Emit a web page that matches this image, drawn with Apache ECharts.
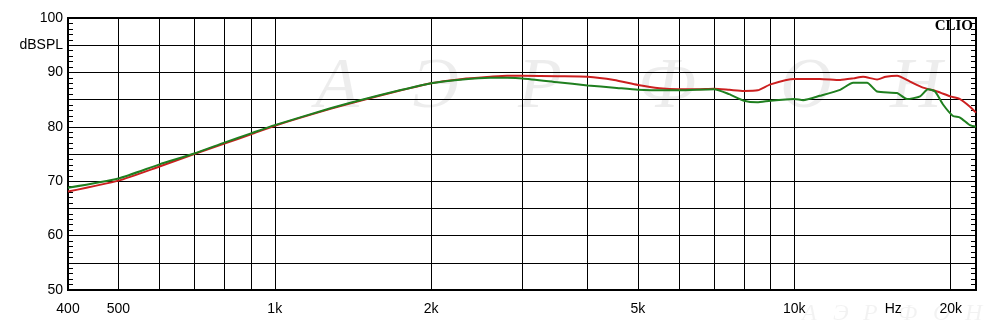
<!DOCTYPE html>
<html><head><meta charset="utf-8">
<script src="https://cdn.jsdelivr.net/npm/echarts@6/dist/echarts.min.js"></script>
<style>html,body{margin:0;padding:0;background:#fff}#c{width:1000px;height:330px}</style>
</head><body><div id="c"></div>
<script>
// Frequencies (Hz) and levels (dB SPL)
const redFreq = [400,500,600,700,800,900,1000,1280,1530,2000,2300,2600,2800,3000,3500,4000,4500,5000,5500,6000,6500,7000,7500,8000,8500,9000,10000,11200,12250,13000,13560,14430,15000,15770,16700,17690,18830,19940,20840,21780,22370];
const redDb   = [68.1,70.1,72.7,75.0,76.9,78.6,80.2,83.3,85.3,88.0,88.8,89.2,89.4,89.4,89.3,89.2,88.6,87.7,87.1,86.9,86.9,87.0,86.8,86.6,86.7,87.8,88.8,88.8,88.6,88.9,89.2,88.7,89.2,89.4,88.3,87.2,86.5,85.6,85.1,83.7,82.6];
const greenFreq = [400,500,600,700,800,900,1000,1280,1530,2000,2300,2600,2800,3000,3500,4000,4500,5000,5770,6000,7000,7490,8000,8480,9000,10000,10400,11200,12250,12980,13800,14430,15770,16480,17460,18080,18660,19330,20200,20840,21780,22370];
const greenDb   = [68.8,70.5,73.1,75.1,77.1,78.8,80.3,83.4,85.4,88.0,88.7,89.0,89.0,88.9,88.2,87.6,87.2,86.8,86.7,86.7,86.9,86.0,84.8,84.5,84.8,85.1,84.9,85.7,86.8,88.1,88.1,86.5,86.2,85.1,85.6,86.9,86.5,84.1,82.0,81.7,80.3,80.0];
const gridFreqs = [500,600,700,800,900,1000,2000,3000,4000,5000,6000,7000,8000,9000,10000,20000];
const labelFreqs = [400,500,1000,2000,5000,10000,15500,20000];
const labelTexts = ['400','500','1k','2k','5k','10k','Hz','20k'];
const yLabels = {50:'50',60:'60',70:'70',80:'80',90:'90',95:'dBSPL',100:'100'};
const watermark = ['А','Э','Р','Ф','О','Н'];

const L = Math.log10;
const xMin = L(400), xMax = L(22370);
const toPts = (f, d) => f.map((v, i) => [L(v), d[i]]);

const chart = echarts.init(document.getElementById('c'), null, {renderer: 'canvas'});
const font = 'Liberation Sans, Arial, sans-serif';

const bigX = [345, 442, 548, 668, 810, 920];
const smallX = [811, 842, 872, 907, 942, 974];
const graphics = [];
watermark.forEach((t, i) => {
  graphics.push({type:'text', z:0, left: bigX[i]-30, top: 52, silent:true,
    style:{text:t, font:'italic 72px "Liberation Serif", serif', fill:'rgba(0,0,0,0.07)'}});
  graphics.push({type:'text', z:0, left: smallX[i]-9, top: 302, silent:true,
    style:{text:t, font:'italic 24px "Liberation Serif", serif', fill:'rgba(0,0,0,0.05)'}});
});
graphics.push({type:'text', z:100, right: 27, top: 19,
  style:{text:'CLIO', font:'bold 15px "Liberation Serif", serif', fill:'#000'}});

const yBase = {
  type:'value', min:50, max:100, interval:5,
  axisLine:{show:true, lineStyle:{color:'#000', width:2}},
  axisTick:{show:true, inside:true, length:5, lineStyle:{color:'#000'}},
  minorTick:{show:true, splitNumber:5, length:5, lineStyle:{color:'#000'}},
};

chart.setOption({
  animation:false,
  backgroundColor:'#fff',
  grid:{left:68, right:24, top:18, bottom:40, show:true, borderColor:'#000', borderWidth:2},
  graphic: graphics,
  xAxis:{
    type:'value', min:xMin, max:xMax,
    axisLine:{show:true, lineStyle:{color:'#000', width:2}},
    axisTick:{show:false, customValues: gridFreqs.map(L)},
    splitLine:{show:true, lineStyle:{color:'#000', width:1}},
    axisLabel:{customValues: labelFreqs.map(L), color:'#000', fontSize:14, fontFamily:font, margin:12,
      formatter:(v)=>{ let bi=0, bd=1e9; labelFreqs.forEach((f,i)=>{const d=Math.abs(L(f)-v); if(d<bd){bd=d;bi=i;}}); return labelTexts[bi]; }}
  },
  yAxis:[
    Object.assign({}, yBase, {position:'left',
      splitLine:{show:true, lineStyle:{color:'#000', width:1}},
      axisLabel:{color:'#000', fontSize:14, fontFamily:font, margin:5,
        formatter:(v)=> yLabels[v] || ''}}),
    Object.assign({}, yBase, {position:'right', splitLine:{show:false}, axisLabel:{show:false}})
  ],
  series:[
    {type:'line', data: toPts(redFreq, redDb), showSymbol:false, smooth:0.2, z:5,
     lineStyle:{color:'#cc1f1f', width:2}, itemStyle:{color:'#cc1f1f'}},
    {type:'line', data: toPts(greenFreq, greenDb), showSymbol:false, smooth:0.2, z:6,
     lineStyle:{color:'#1f7f1f', width:2}, itemStyle:{color:'#1f7f1f'}}
  ]
});
</script></body></html>
